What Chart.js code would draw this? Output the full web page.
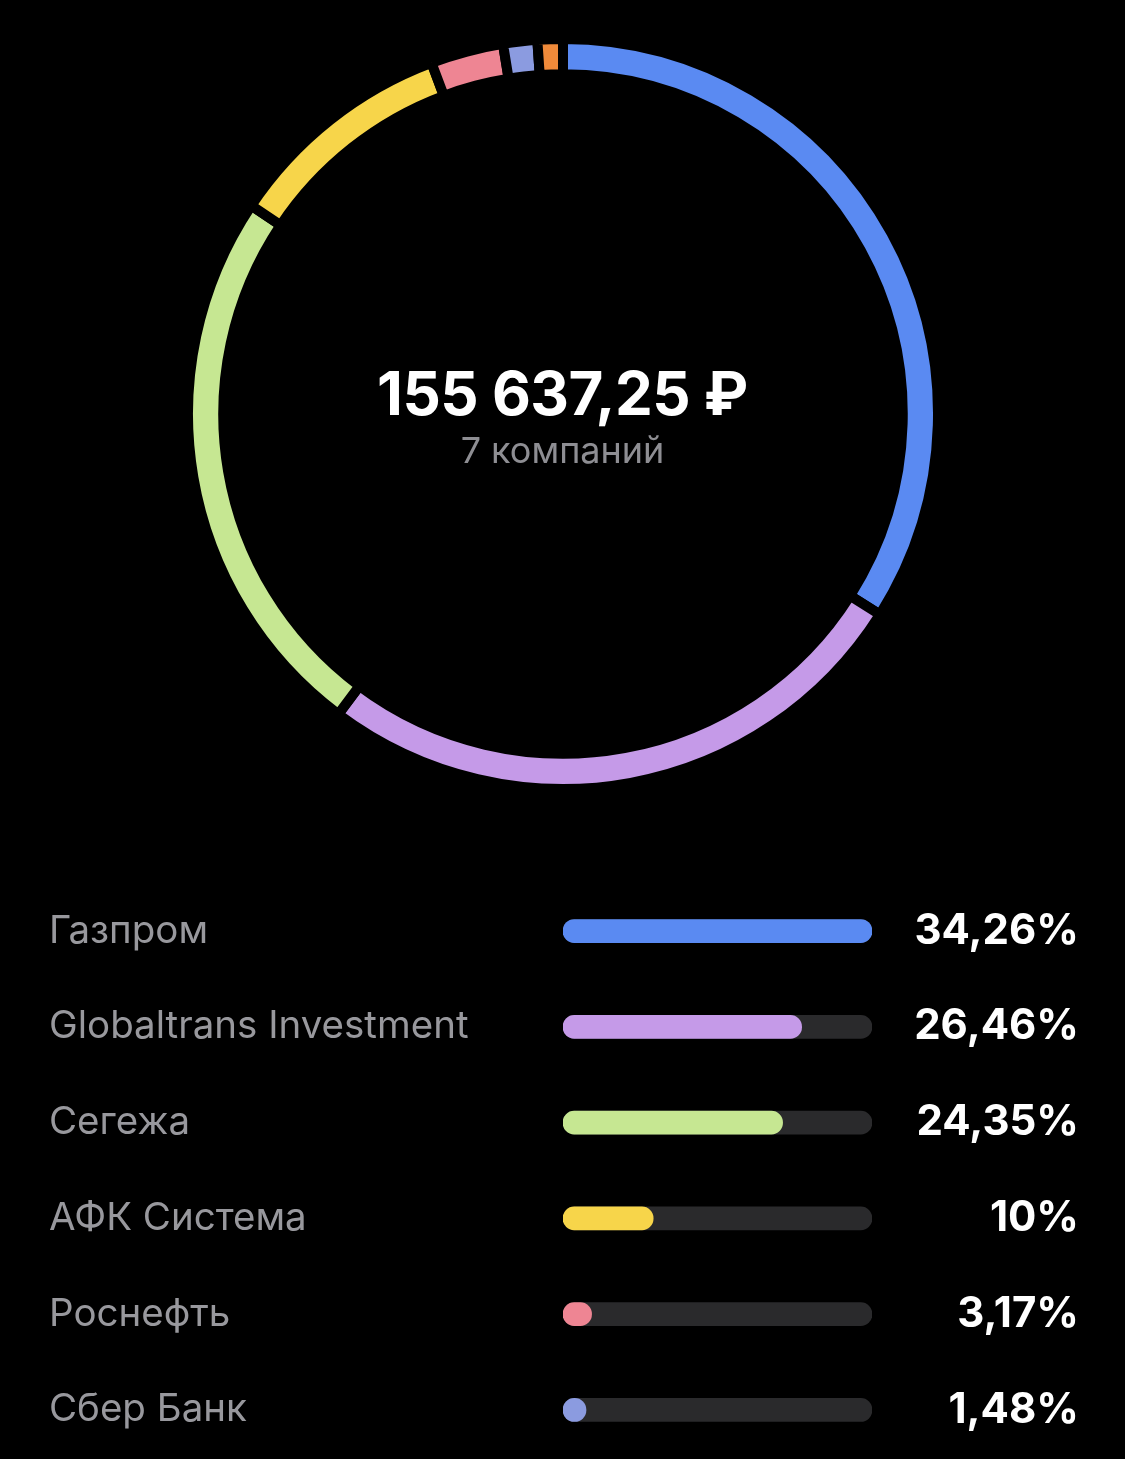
<!DOCTYPE html>
<html lang="ru">
<head>
  <meta charset="UTF-8">
  <title>Портфель</title>
  <script src="https://cdn.jsdelivr.net/npm/chart.js"></script>
  <style>
    html, body { margin: 0; padding: 0; background: #000; }
    body { width: 1125px; height: 1459px; position: relative; overflow: hidden; font-family: Inter, "Noto Sans", sans-serif; }
    #ringWrap { position: absolute; left: 183px; top: 34px; width: 760px; height: 760px; }
    #listWrap { position: absolute; left: 0; top: 855px; width: 1125px; height: 631px; }
    .total { position: absolute; left: 0; width: 1125px; text-align: center; color: #fff; font-weight: 700; font-size: 60px; line-height: 60px; top: 363px; letter-spacing: -0.5px; }
    .count { position: absolute; left: 0; width: 1125px; text-align: center; color: #8e8e93; font-size: 36px; line-height: 36px; top: 432px; }
  </style>
</head>
<body>
<div id="ringWrap"><canvas id="ringChart" width="760" height="760"></canvas></div>
<div class="total">155 637,25 ₽</div>
<div class="count">7 компаний</div>
<div id="listWrap"><canvas id="barChart" width="1125" height="631"></canvas></div>

<script>
  // доли компаний в портфеле, %
  const companies = ['Газпром', 'Globaltrans Investment', 'Сегежа', 'АФК Система', 'Роснефть', 'Сбер Банк', 'Прочие'];
  const shares = [34.26, 26.46, 24.35, 10, 3.17, 1.48, 0.28];
  const shareLabels = ['34,26%', '26,46%', '24,35%', '10%', '3,17%', '1,48%', '0,28%'];
  const colors = ['#5a8af2', '#c59ae8', '#c6e792', '#f7d54a', '#ee8593', '#8b9be0', '#f08a3a'];

  const minArc = 1.1; // самая мелкая доля на кольце всё равно видна
  const visibleRows = 6;

  new Chart(document.getElementById('ringChart'), {
    type: 'doughnut',
    data: {
      labels: companies,
      datasets: [{
        data: shares.map(v => Math.max(v, minArc)),
        backgroundColor: colors,
        borderColor: '#000',
        borderWidth: 10,
        borderJoinStyle: 'miter',
        hoverOffset: 0
      }]
    },
    options: {
      responsive: false,
      animation: false,
      cutout: '90.6%',
      plugins: { legend: { display: false }, tooltip: { enabled: false } }
    }
  });

  const rowNames = companies.slice(0, visibleRows);
  const rowValues = shares.slice(0, visibleRows);
  const maxShare = Math.max(...shares);

  new Chart(document.getElementById('barChart'), {
    type: 'bar',
    data: {
      labels: rowNames,
      datasets: [
        {
          label: 'Доля',
          data: rowValues,
          backgroundColor: colors.slice(0, visibleRows),
          barThickness: 23,
          borderRadius: 12,
          borderSkipped: false,
          minBarLength: 23,
          grouped: false,
          order: 0
        },
        {
          label: 'Фон',
          data: rowValues.map(() => maxShare),
          backgroundColor: '#2a2a2c',
          barThickness: 23,
          borderRadius: 12,
          borderSkipped: false,
          grouped: false,
          order: 1
        }
      ]
    },
    options: {
      indexAxis: 'y',
      responsive: false,
      animation: false,
      layout: { padding: { left: 49, right: 46, top: 0, bottom: 0 } },
      plugins: { legend: { display: false }, tooltip: { enabled: false } },
      scales: {
        x: { display: false, min: 0, max: maxShare },
        y: {
          position: 'left',
          grid: { display: false },
          border: { display: false },
          ticks: {
            crossAlign: 'far',
            color: '#98989d',
            font: { family: 'Inter', size: 38.5, weight: '400' }
          },
          afterFit: (scale) => { scale.width = 514; }
        },
        pct: {
          type: 'category',
          axis: 'y',
          position: 'right',
          labels: shareLabels.slice(0, visibleRows),
          grid: { display: false },
          border: { display: false },
          ticks: {
            crossAlign: 'far',
            color: '#ffffff',
            font: { family: 'Inter', size: 42, weight: '700' }
          },
          afterFit: (scale) => { scale.width = 207; }
        }
      }
    }
  });
</script>
</body>
</html>
